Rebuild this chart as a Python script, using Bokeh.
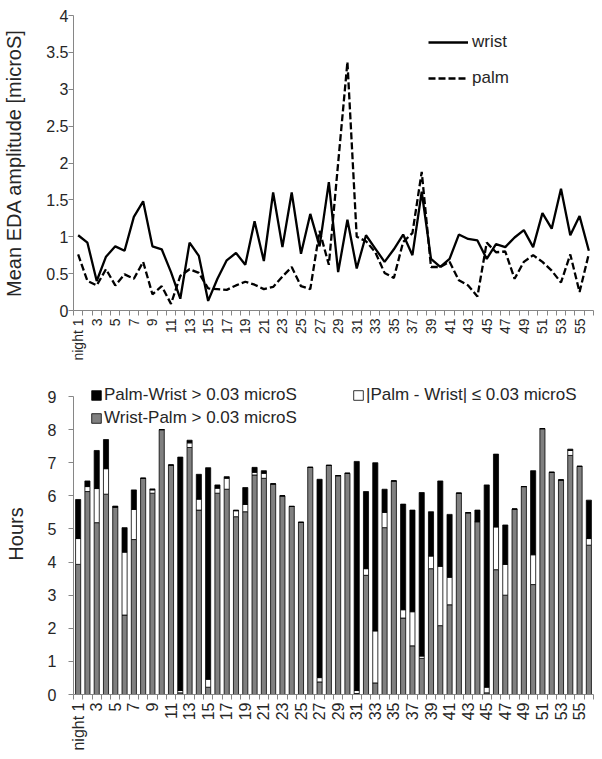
import math
from bokeh.plotting import figure
from bokeh.layouts import column
from bokeh.models import ColumnDataSource, FixedTicker, Legend, LegendItem, Range1d
from bokeh.embed import file_html
from bokeh.resources import INLINE

# ---------------- data ----------------
nights = list(range(1, 57))

wrist = [1.02, 0.92, 0.40, 0.73, 0.87, 0.81, 1.27, 1.48, 0.87, 0.83,
         0.52, 0.16, 0.92, 0.74, 0.13, 0.43, 0.68, 0.78, 0.62, 1.21,
         0.67, 1.60, 0.86, 1.60, 0.77, 1.31, 0.87, 1.74, 0.52, 1.23,
         0.57, 1.02, 0.84, 0.66, 0.83, 1.03, 0.75, 1.61, 0.70, 0.59,
         0.70, 1.03, 0.97, 0.95, 0.70, 0.90, 0.86, 0.99, 1.09, 0.86,
         1.32, 1.11, 1.65, 1.02, 1.28, 0.81]

palm = [0.76, 0.40, 0.34, 0.56, 0.34, 0.49, 0.43, 0.66, 0.22, 0.33,
        0.09, 0.47, 0.56, 0.51, 0.30, 0.29, 0.28, 0.34, 0.39, 0.35,
        0.29, 0.32, 0.46, 0.59, 0.33, 0.29, 1.08, 0.62, 2.00, 3.37,
        1.00, 0.94, 0.79, 0.51, 0.44, 0.93, 1.05, 1.88, 0.59, 0.59,
        0.66, 0.41, 0.34, 0.19, 0.92, 0.79, 0.80, 0.43, 0.66, 0.75,
        0.66, 0.54, 0.38, 0.76, 0.25, 0.77]

# hours per night (stacked: Wrist-Palm bottom, |diff| middle, Palm-Wrist top)
wrist_palm = [3.93, 6.13, 5.19, 6.05, 5.66, 2.40, 4.68, 6.53, 6.08, 8.00,
              6.93, 0.05, 7.46, 5.57, 0.22, 6.08, 6.20, 5.37, 5.52, 6.63,
              6.53, 6.36, 6.00, 5.68, 5.20, 6.86, 0.38, 6.92, 6.61, 6.68,
              0.03, 3.60, 0.35, 5.04, 6.45, 2.31, 1.47, 1.09, 3.80, 2.08,
              2.71, 6.08, 5.49, 5.22, 0.05, 3.77, 3.00, 5.60, 6.28, 3.32,
              8.03, 6.71, 6.48, 7.22, 6.89, 4.51]
within = [0.78, 0.15, 1.03, 0.77, 0.00, 1.90, 0.91, 0.00, 0.10, 0.00,
          0.00, 0.07, 0.14, 0.33, 0.24, 0.15, 0.33, 0.18, 0.22, 0.08,
          0.15, 0.00, 0.00, 0.00, 0.00, 0.00, 0.13, 0.00, 0.00, 0.00,
          0.09, 0.20, 1.57, 0.46, 0.00, 0.25, 1.03, 0.07, 0.38, 1.79,
          0.83, 0.00, 0.00, 0.00, 0.17, 1.29, 0.93, 0.00, 0.00, 0.90,
          0.00, 0.00, 0.00, 0.15, 0.00, 0.20]
palm_wrist = [1.18, 0.17, 1.15, 0.88, 0.03, 0.74, 0.59, 0.00, 0.03, 0.00,
              0.00, 7.05, 0.08, 0.75, 6.39, 0.10, 0.05, 0.02, 0.51, 0.15,
              0.08, 0.00, 0.00, 0.00, 0.00, 0.00, 5.99, 0.00, 0.00, 0.00,
              6.92, 2.33, 5.08, 0.70, 0.00, 3.19, 3.07, 4.94, 1.34, 2.58,
              1.90, 0.00, 0.00, 0.35, 6.11, 2.20, 1.19, 0.00, 0.00, 2.54,
              0.00, 0.00, 0.00, 0.04, 0.00, 1.16]

eda_ticks = [0, 0.5, 1, 1.5, 2, 2.5, 3, 3.5, 4]
eda_tick_labels = ["0", "0.5", "1", "1.5", "2", "2.5", "3", "3.5", "4"]
hour_ticks = [0, 1, 2, 3, 4, 5, 6, 7, 8, 9]
labelled_nights = [n for n in nights if n % 2 == 1]
night_labels = ["night 1" if n == 1 else str(n) for n in labelled_nights]

series_names = ["wrist", "palm"]
bar_names = ["Palm-Wrist > 0.03 microS", "Wrist-Palm > 0.03 microS",
             "|Palm - Wrist| \u2264 0.03 microS"]

FONT = "Liberation Sans"
AX = "#868686"
TXT = "#262626"


def style_x(p, size):
    ax = p.xaxis[0]
    ax.ticker = FixedTicker(ticks=labelled_nights,
                            minor_ticks=[n - 0.5 for n in nights] + [nights[-1] + 0.5])
    ax.major_label_overrides = dict(zip(labelled_nights, night_labels))
    ax.major_label_orientation = math.pi / 2
    ax.major_tick_in = 0
    ax.major_tick_out = 0
    ax.minor_tick_in = 0
    ax.minor_tick_out = 5
    ax.minor_tick_line_color = AX
    ax.axis_line_color = AX
    ax.major_label_text_font = FONT
    ax.major_label_text_font_size = size
    ax.major_label_text_color = TXT
    ax.major_label_standoff = 3


def style_y(p, ticks, label, standoff, label_standoff):
    ax = p.yaxis[0]
    ax.ticker = FixedTicker(ticks=ticks)
    ax.major_tick_in = 0
    ax.major_tick_out = 5
    ax.major_tick_line_color = AX
    ax.minor_tick_line_color = None
    ax.axis_line_color = AX
    ax.major_label_text_font = FONT
    ax.major_label_text_font_size = "16px"
    ax.major_label_text_color = TXT
    ax.major_label_standoff = standoff
    ax.axis_label = label
    ax.axis_label_text_font = FONT
    ax.axis_label_text_font_size = "20px"
    ax.axis_label_text_font_style = "normal"
    ax.axis_label_text_color = TXT
    ax.axis_label_standoff = label_standoff


# ---------------- top: line chart ----------------
p1 = figure(width=602, height=368, x_range=Range1d(0.5, 56.5), y_range=Range1d(0, 4),
            output_backend="svg", toolbar_location=None,
            min_border_left=72, min_border_right=9, min_border_top=15, min_border_bottom=58)
p1.grid.visible = False
p1.outline_line_color = None

r_w = p1.line(nights, wrist, line_color="black", line_width=2.3)
r_p = p1.line(nights, palm, line_color="black", line_width=2.3, line_dash="7 3")

style_x(p1, "14px")
style_y(p1, eda_ticks, "Mean EDA amplitude [microS]", 0, 18)
p1.yaxis[0].major_label_overrides = dict(zip(eda_ticks, eda_tick_labels))

leg1 = Legend(items=[LegendItem(label=series_names[0], renderers=[r_w]),
                     LegendItem(label=series_names[1], renderers=[r_p])],
              location=(355, 222), glyph_width=40, glyph_height=20, label_standoff=4,
              spacing=16, padding=0, margin=0, border_line_alpha=0,
              background_fill_alpha=0, label_text_font=FONT,
              label_text_font_size="17px", label_text_color=TXT)
p1.add_layout(leg1)

# ---------------- bottom: stacked bars ----------------
src = ColumnDataSource(dict(night=nights, wp=wrist_palm, eq=within, pw=palm_wrist))

p2 = figure(width=602, height=391, x_range=Range1d(0.5, 56.5), y_range=Range1d(0, 9.695),
            output_backend="svg", toolbar_location=None,
            min_border_left=72, min_border_right=9, min_border_top=5, min_border_bottom=65)
p2.grid.visible = False
p2.outline_line_color = None

rs = p2.vbar_stack(["wp", "eq", "pw"], x="night", width=0.55, source=src,
                   fill_color=["#808080", "white", "black"],
                   line_color="black", line_width=0.8)

style_x(p2, "16px")
style_y(p2, hour_ticks, "Hours", 12, 18)
p2.yaxis[0].bounds = (0, 9)

leg2 = Legend(items=[LegendItem(label=bar_names[0], renderers=[rs[2]]),
                     LegendItem(label=bar_names[1], renderers=[rs[0]])],
              location=(17, 266), glyph_width=12, glyph_height=12, label_standoff=2,
              spacing=3, padding=0, margin=0, border_line_alpha=0,
              background_fill_alpha=0, label_text_font=FONT,
              label_text_font_size="17px", label_text_color=TXT)
leg3 = Legend(items=[LegendItem(label=bar_names[2], renderers=[rs[1]])],
              location=(279, 289), glyph_width=12, glyph_height=12, label_standoff=2,
              spacing=3, padding=0, margin=0, border_line_alpha=0,
              background_fill_alpha=0, label_text_font=FONT,
              label_text_font_size="17px", label_text_color=TXT)
p2.add_layout(leg2)
p2.add_layout(leg3)

layout = column(p1, p2, spacing=0)
open("out.html", "w").write(file_html(layout, INLINE))
